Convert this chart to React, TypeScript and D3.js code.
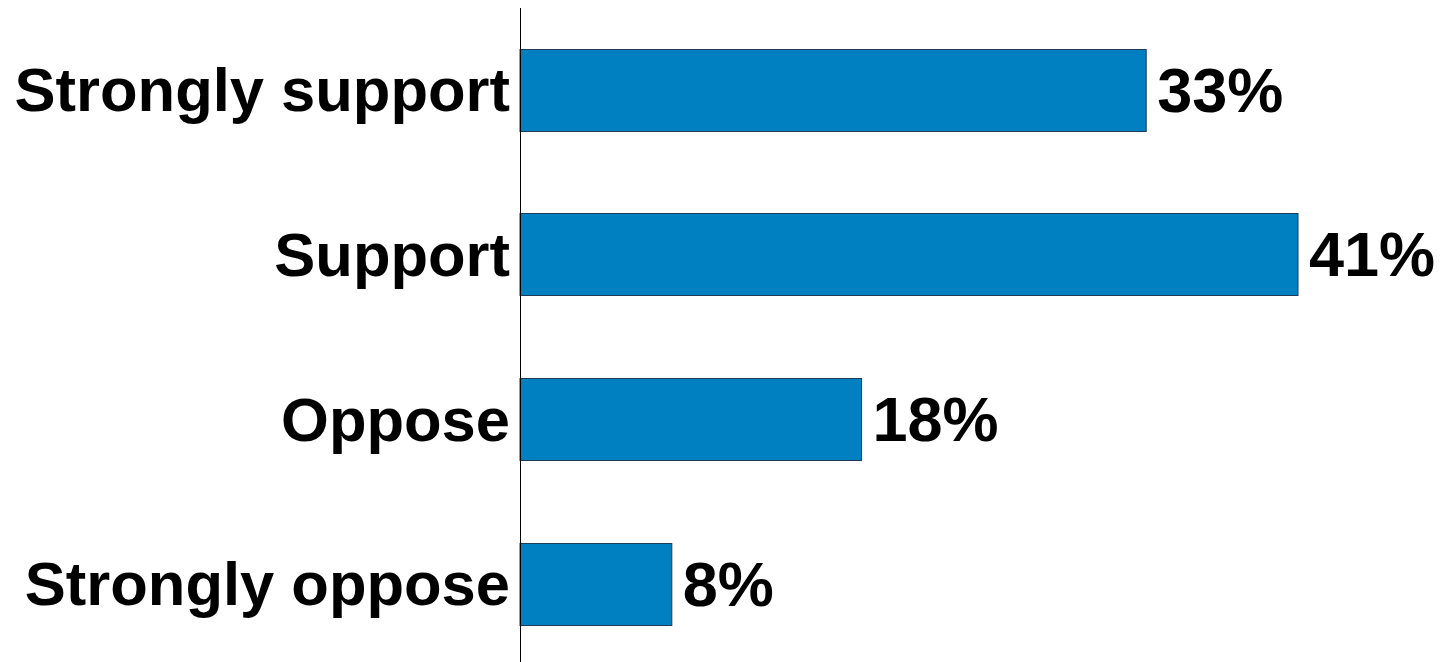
import React, { useEffect, useRef } from 'react';
import * as d3 from 'd3';

const categories = ['Strongly support', 'Support', 'Oppose', 'Strongly oppose'];
const values = [33, 41, 18, 8];

const App: React.FC = () => {
  const svgRef = useRef<SVGSVGElement>(null);

  useEffect(() => {
    if (!svgRef.current) return;

    const width = 1447;
    const height = 662;
    const axisX = 520;

    const svg = d3.select(svgRef.current);
    svg.selectAll('*').remove();

    const x = d3.scaleLinear().domain([0, 41]).range([axisX, 1298]);
    const y = d3.scaleBand<string>()
      .domain(categories)
      .range([7.5, 666])
      .paddingInner(0.5)
      .paddingOuter(0.25);

    const rows = categories.map((c, i) => ({ name: c, value: values[i] }));

    // Bars
    svg.selectAll('.bar')
      .data(rows)
      .enter().append('rect')
      .attr('class', 'bar')
      .attr('x', x(0))
      .attr('y', d => Math.round(y(d.name)!) + 0.5)
      .attr('width', d => x(d.value) - x(0))
      .attr('height', Math.round(y.bandwidth()))
      .attr('fill', '#0080c0')
      .attr('stroke', '#1d3a56')
      .attr('stroke-width', 1);

    // Axis line
    svg.append('line')
      .attr('x1', axisX + 0.5)
      .attr('x2', axisX + 0.5)
      .attr('y1', 8)
      .attr('y2', height)
      .attr('stroke', '#000')
      .attr('stroke-width', 1);

    // Category labels
    svg.selectAll('.cat')
      .data(rows)
      .enter().append('text')
      .attr('class', 'cat')
      .attr('x', axisX - 10)
      .attr('y', d => y(d.name)! + y.bandwidth() / 2)
      .attr('dy', '0.35em')
      .attr('text-anchor', 'end')
      .attr('font-family', '"Liberation Sans", Arial, sans-serif')
      .attr('font-weight', 'bold')
      .attr('font-size', 61.5)
      .attr('fill', '#000')
      .text(d => d.name);

    // Value labels
    svg.selectAll('.val')
      .data(rows)
      .enter().append('text')
      .attr('class', 'val')
      .attr('x', d => x(d.value) + 11)
      .attr('y', d => y(d.name)! + y.bandwidth() / 2)
      .attr('dy', '0.35em')
      .attr('text-anchor', 'start')
      .attr('font-family', '"Liberation Sans", Arial, sans-serif')
      .attr('font-weight', 'bold')
      .attr('font-size', 63)
      .attr('fill', '#000')
      .text(d => `${d.value}%`);

    svg.attr('width', width).attr('height', height);
  }, []);

  return (
    <svg
      ref={svgRef}
      width={1447}
      height={662}
      style={{ position: 'absolute', left: 0, top: 0, display: 'block', background: '#fff' }}
    />
  );
};

export default App;
